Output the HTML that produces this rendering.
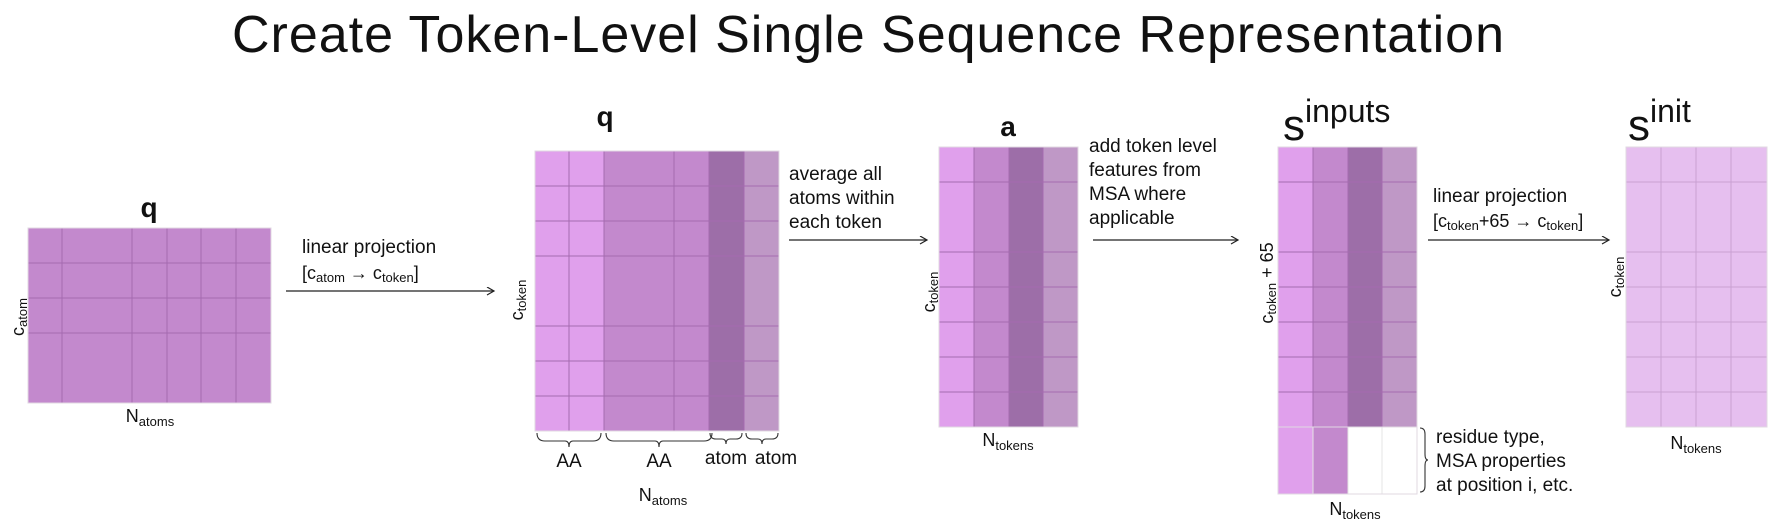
<!DOCTYPE html>
<html><head><meta charset="utf-8"><style>
html,body{margin:0;padding:0;background:#fff}
svg{display:block}
text{font-family:"Liberation Sans",sans-serif;fill:#111}
</style></head><body>
<svg id="s" width="1774" height="532" viewBox="0 0 1774 532">
<defs><marker id="ah" markerWidth="10" markerHeight="10" refX="8" refY="4" orient="auto" markerUnits="userSpaceOnUse"><path d="M1,0 L8,4 L1,8" fill="none" stroke="#222" stroke-width="1.2"/></marker></defs>
<text x="868" y="52" font-size="52" text-anchor="middle" textLength="1272">Create Token-Level Single Sequence Representation</text>
<g id="grids"></g>

<!-- labels grid1 -->
<text x="149" y="217" font-size="28" font-weight="bold" text-anchor="middle">q</text>
<text transform="translate(24,317) rotate(-90)" font-size="18" text-anchor="middle">c<tspan font-size="13" dy="3">atom</tspan></text>
<text x="150" y="422" font-size="18" text-anchor="middle">N<tspan font-size="13" dy="4">atoms</tspan></text>

<!-- arrow1 -->
<text x="302" y="253" font-size="19">linear projection</text>
<text x="302" y="279" font-size="18">[c<tspan font-size="13" dy="3">atom</tspan><tspan dy="-3"> → c</tspan><tspan font-size="13" dy="3">token</tspan><tspan dy="-3">]</tspan></text>
<line x1="286" y1="291" x2="494" y2="291" stroke="#222" stroke-width="1.2" marker-end="url(#ah)"/>

<!-- grid2 labels -->
<text x="605" y="126" font-size="28" font-weight="bold" text-anchor="middle">q</text>
<text transform="translate(523,300) rotate(-90)" font-size="18" text-anchor="middle">c<tspan font-size="13" dy="3">token</tspan></text>
<g fill="none" stroke="#333" stroke-width="1.1">
<path d="M537,433 q0,8 8,8 h20 q4,0 4,6 q0,-6 4,-6 h20 q8,0 8,-8"/>
<path d="M606,433 q0,8 8,8 h41 q4,0 4,6 q0,-6 4,-6 h41 q8,0 8,-8"/>
<path d="M710,433 q0,6 6,6 h6 q4,0 4,5 q0,-5 4,-5 h6 q6,0 6,-6"/>
<path d="M746,433 q0,6 6,6 h6 q4,0 4,5 q0,-5 4,-5 h6 q6,0 6,-6"/>
</g>
<text x="569" y="467" font-size="19" text-anchor="middle">AA</text>
<text x="659" y="467" font-size="19" text-anchor="middle">AA</text>
<text x="726" y="464" font-size="19" text-anchor="middle">atom</text>
<text x="776" y="464" font-size="19" text-anchor="middle">atom</text>
<text x="663" y="501" font-size="18" text-anchor="middle">N<tspan font-size="13" dy="4">atoms</tspan></text>

<!-- arrow2 -->
<text font-size="19"><tspan x="789" y="180">average all</tspan><tspan x="789" y="204">atoms within</tspan><tspan x="789" y="228">each token</tspan></text>
<line x1="789" y1="240" x2="927" y2="240" stroke="#222" stroke-width="1.2" marker-end="url(#ah)"/>

<!-- grid3 labels -->
<text x="1008" y="136" font-size="28" font-weight="bold" text-anchor="middle">a</text>
<text transform="translate(935,292) rotate(-90)" font-size="18" text-anchor="middle">c<tspan font-size="13" dy="3">token</tspan></text>
<text x="1008" y="446" font-size="18" text-anchor="middle">N<tspan font-size="13" dy="4">tokens</tspan></text>

<!-- arrow3 -->
<text font-size="19"><tspan x="1089" y="152">add token level</tspan><tspan x="1089" y="176">features from</tspan><tspan x="1089" y="200">MSA where</tspan><tspan x="1089" y="224">applicable</tspan></text>
<line x1="1093" y1="240" x2="1238" y2="240" stroke="#222" stroke-width="1.2" marker-end="url(#ah)"/>

<!-- grid4 labels -->
<text x="1283" y="140" font-size="44">s<tspan font-size="32" dy="-18">inputs</tspan></text>
<text transform="translate(1273,283) rotate(-90)" font-size="18" text-anchor="middle">c<tspan font-size="13" dy="3">token</tspan><tspan dy="-3"> + 65</tspan></text>
<text x="1355" y="515" font-size="18" text-anchor="middle">N<tspan font-size="13" dy="4">tokens</tspan></text>
<path d="M1420,428 q5,0 5,6 v20 q0,6 3,6 q-3,0 -3,6 v20 q0,6 -5,6" fill="none" stroke="#333" stroke-width="1.1"/>
<text font-size="19"><tspan x="1436" y="443">residue type,</tspan><tspan x="1436" y="467">MSA properties</tspan><tspan x="1436" y="491">at position i, etc.</tspan></text>

<!-- arrow4 -->
<text x="1433" y="202" font-size="19">linear projection</text>
<text x="1433" y="227" font-size="18">[c<tspan font-size="13" dy="3">token</tspan><tspan dy="-3">+65 → c</tspan><tspan font-size="13" dy="3">token</tspan><tspan dy="-3">]</tspan></text>
<line x1="1428" y1="240" x2="1609" y2="240" stroke="#222" stroke-width="1.2" marker-end="url(#ah)"/>

<!-- grid5 labels -->
<text x="1628" y="140" font-size="44">s<tspan font-size="32" dy="-18">init</tspan></text>
<text transform="translate(1621,277) rotate(-90)" font-size="18" text-anchor="middle">c<tspan font-size="13" dy="3">token</tspan></text>
<text x="1696" y="449" font-size="18" text-anchor="middle">N<tspan font-size="13" dy="4">tokens</tspan></text>
</svg>
<script>
const NS="http://www.w3.org/2000/svg";
const g=document.getElementById('grids');
const C={L:"#e0a0ec",M:"#c389cd",D:"#9d6ea8",X:"#bf98c6",P:"#e6bfef",W:"#ffffff"};
const grids=[
 {name:"q-atom-grid",xs:[28,62,132,167,201,236,271],ys:[228,263,298,333,403],cols:["M","M","M","M","M","M"],line:"#a56bb0"},
 {name:"q-token-grid",xs:[535,569,604,674,709,744,779],ys:[151,186,221,256,326,361,396,431],cols:["L","L","M","M","D","X"],line:"#a56bb0"},
 {name:"a-grid",xs:[939,974,1009,1043,1078],ys:[147,182,252,287,322,357,392,427],cols:["L","M","D","X"],line:"#a56bb0"},
 {name:"s-inputs-grid",xs:[1278,1313,1348,1382,1417],ys:[147,182,252,287,322,357,392,427],cols:["L","M","D","X"],line:"#a56bb0"},
 {name:"s-inputs-extra",xs:[1278,1313,1348,1382,1417],ys:[427,494],cols:["L","M","W","W"],line:"#e4e4e4"},
 {name:"s-init-grid",xs:[1626,1661,1696,1731,1767],ys:[147,182,252,287,322,357,392,427],cols:["P","P","P","P"],line:"#c9a0d2"}
];
grids.forEach(gr=>{
 const grp=document.createElementNS(NS,'g');
 
 
 gr.cols.forEach((c,i)=>{
  const r=document.createElementNS(NS,'rect');
  r.setAttribute('x',gr.xs[i]);r.setAttribute('y',gr.ys[0]);
  r.setAttribute('width',gr.xs[i+1]-gr.xs[i]);r.setAttribute('height',gr.ys[gr.ys.length-1]-gr.ys[0]);
  r.setAttribute('fill',C[c]);
  
  
  grp.appendChild(r);
 });
 const x0=gr.xs[0],x1=gr.xs[gr.xs.length-1],y0=gr.ys[0],y1=gr.ys[gr.ys.length-1];
 gr.xs.slice(1,-1).forEach(x=>{const l=document.createElementNS(NS,'line');l.setAttribute('x1',x);l.setAttribute('x2',x);l.setAttribute('y1',y0);l.setAttribute('y2',y1);l.setAttribute('stroke',gr.line);l.setAttribute('stroke-width','1');
  
  
  grp.appendChild(l);});
 gr.ys.slice(1,-1).forEach(y=>{const l=document.createElementNS(NS,'line');l.setAttribute('x1',x0);l.setAttribute('x2',x1);l.setAttribute('y1',y);l.setAttribute('y2',y);l.setAttribute('stroke',gr.line);l.setAttribute('stroke-width','1');
  
  
  grp.appendChild(l);});
 const b=document.createElementNS(NS,'rect');
 b.setAttribute('x',x0);b.setAttribute('y',y0);b.setAttribute('width',x1-x0);b.setAttribute('height',y1-y0);b.setAttribute('fill','none');b.setAttribute('stroke','#e0d8e2');b.setAttribute('stroke-width','1');
 
 
 grp.appendChild(b);
 g.appendChild(grp);
});
</script>
</body></html>
